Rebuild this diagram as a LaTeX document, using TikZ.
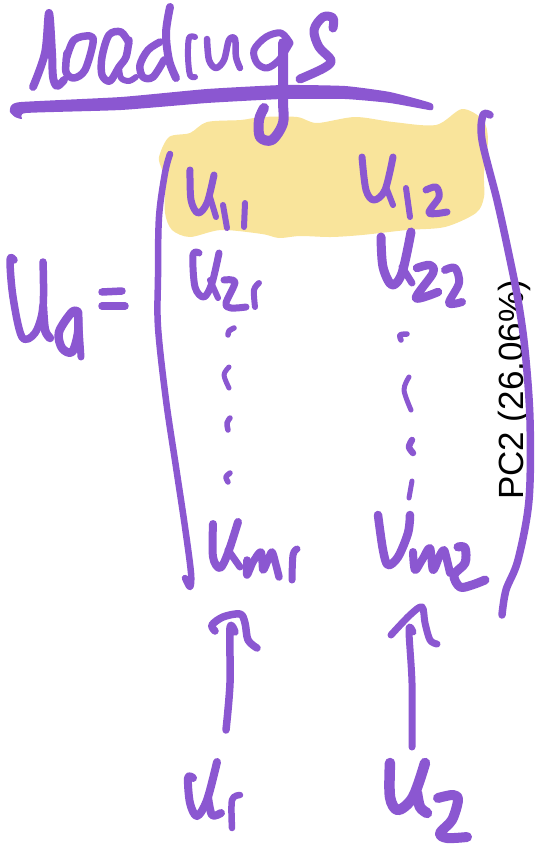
\documentclass[tikz,border=0pt]{standalone}
\usepackage{fontspec}
\setmainfont{Liberation Sans}
\definecolor{penpurple}{HTML}{8B57D1}
\definecolor{marker}{HTML}{F9E49B}
\newcommand{\penstroke}[2]{\draw[pen, line width=#1] plot[smooth, tension=.55] coordinates {#2};}
\begin{document}
\begin{tikzpicture}[
    x=1pt, y=-1pt,
    pen/.style={draw=penpurple, line cap=round, line join=round},
    axislabel/.style={rotate=90, anchor=base west, inner sep=0pt, font=\fontsize{35}{35}\selectfont}
]
\useasboundingbox (0,0) rectangle (539,847);
% highlight behind the first row
\fill[marker] plot[smooth cycle, tension=.5] coordinates {(159,157) (169,137) (190,133) (207,122) (241,120) (262,117) (297,117) (317,123) (355,117) (393,122) (436,125) (462,109) (483,120) (488,140) (484,173) (484,197) (476,213) (445,227) (407,230) (362,235) (331,237) (300,236) (279,238) (262,234) (221,230) (190,237) (172,230) (165,213) (165,183) (162,170)};
\node[axislabel] (pclabel) at (523.5,500) {PC2 (26.06\%)};
% title
\penstroke{8}{(33,87) (45,53) (49,13) (52,53) (53,77) (57,86) (64,80)}
\penstroke{7.5}{(66,60) (74,40) (90,36) (93,43) (85,70) (74,78) (66,72) (67,53)}
\penstroke{7.5}{(129,43) (121,32) (109,35) (102,57) (102,75) (110,81) (119,67) (126,57) (129,40)}
\penstroke{6}{(119,67) (121,78) (129,81) (136,77)}
\penstroke{8}{(170,7) (166,33) (169,60) (176,78)}
\penstroke{7.5}{(160,42) (148,50) (140,65) (143,77) (153,77) (164,60)}
\penstroke{6}{(195,37) (189,38) (188,57) (190,75) (195,77)}
\penstroke{6.5}{(207,39) (209,60) (216,68) (224,60) (229,40) (235,39) (236,57) (240,68)}
\penstroke{7}{(290,43) (281,33) (266,37) (254,50) (257,63) (267,68) (279,60) (290,43)}
\penstroke{10}{(283,43) (283,100) (283,123) (272,140) (260,137) (259,120) (264,108)}
\penstroke{9}{(333,28) (333,18) (323,17) (314,30) (319,47) (331,60) (324,68) (300,79)}
\fill[penpurple] plot[smooth cycle, tension=.3] coordinates {(11,106) (21,102) (121,97) (207,89) (283,85) (345,86) (390,92) (431,103) (433,109) (429,110) (390,103) (345,99) (283,99) (207,103) (121,110) (26,113) (22,119) (15,117) (10,112)};
% brackets
\penstroke{6.5}{(170,154) (165,173) (159,217) (158,277) (158,327) (166,400) (176,467) (185,527) (191,573) (190,587) (185,578)}
\penstroke{7.5}{(490,115) (483,115) (482,140) (497,200) (508,250) (518,300) (525,350) (530,420) (529,500) (518,560) (506,590) (502,615)}
% U_q =
\penstroke{7.5}{(14,260) (10,260) (13,297) (22,337) (35,333) (43,307) (43,262)}
\penstroke{8.5}{(43,307) (45,330) (50,338)}
\penstroke{8.5}{(78,312) (72,312) (59,332) (62,348) (72,352) (78,333) (78,312)}
\penstroke{7}{(78,312) (81,357)}
\penstroke{7.5}{(102,292) (122,291)}
\penstroke{7.5}{(102,306) (125,306)}
% u_11
\penstroke{7}{(190,170) (191,200) (198,213) (207,203) (214,175)}
\penstroke{6}{(210,197) (216,217)}
\penstroke{6}{(223,205) (227,228)}
\penstroke{6}{(245,203) (244,227)}
% u_12
\penstroke{7}{(362,157) (366,190) (374,200) (385,190) (393,157)}
\penstroke{6}{(386,187) (393,205)}
\penstroke{6}{(406,188) (410,217)}
\penstroke{7}{(426,190) (436,187) (439,197) (429,213) (447,212)}
% u_21
\penstroke{7}{(199,253) (193,255) (195,287) (204,297) (212,283) (219,253)}
\penstroke{6}{(210,280) (218,298)}
\penstroke{7}{(224,280) (235,282) (226,303) (231,308) (246,307)}
\penstroke{6}{(259,283) (254,290) (255,307)}
% u_22
\penstroke{9}{(381,237) (383,267) (392,285) (402,273) (411,232)}
\penstroke{7}{(402,267) (412,283)}
\penstroke{8.5}{(417,268) (430,265) (433,273) (416,298) (438,292)}
\penstroke{8}{(445,270) (455,268) (459,283) (449,303) (462,302)}
% dots, column 1
\penstroke{5.5}{(234,328) (229,331) (228,335)}
\penstroke{5}{(229,367) (224,375) (229,388)}
\penstroke{5.5}{(230,418) (227,423) (228,430)}
\penstroke{5.5}{(230,473) (226,477) (228,482)}
% dots, column 2
\penstroke{5.5}{(407,334) (400,335) (401,340)}
\penstroke{5}{(409,377) (404,390) (411,410)}
\penstroke{6.5}{(412,440) (409,447) (413,453)}
\penstroke{5}{(412,481) (409,498)}
% u_m1
\penstroke{8}{(213,524) (213,557) (220,568) (228,553) (238,522)}
\penstroke{7}{(228,550) (240,567)}
\penstroke{7.5}{(247,560) (247,575) (253,562) (261,552) (263,570) (268,560) (272,552) (276,565) (279,577)}
\penstroke{7}{(297,549) (293,555) (292,580)}
% v_m2
\penstroke{8.5}{(378,515) (383,550) (388,565) (398,557) (408,533) (410,515)}
\penstroke{8}{(413,552) (415,570) (422,560) (430,548) (433,570) (440,555) (444,550) (447,560) (450,573)}
\penstroke{9}{(458,547) (465,548) (465,563) (454,575) (460,587) (472,585) (485,580)}
% arrows
\penstroke{7.5}{(235,632) (230,628) (230,683) (226,730)}
\penstroke{7.5}{(215,631) (212,625) (223,617) (240,614) (245,623) (248,640) (257,648)}
\penstroke{7}{(413,632) (409,630) (412,683) (412,747)}
\penstroke{7}{(391,635) (410,615) (422,607) (425,623) (430,640) (437,644)}
% u_1
\penstroke{8}{(193,778) (188,778) (190,803) (197,816) (207,800) (217,762)}
\penstroke{8}{(208,797) (212,815) (221,813)}
\penstroke{6.5}{(240,795) (232,800) (232,828)}
% u_2
\penstroke{10.5}{(390,763) (390,797) (398,810) (413,797) (425,763)}
\penstroke{10.5}{(417,793) (420,807) (427,813)}
\penstroke{10}{(438,798) (453,795) (458,800) (452,820) (440,833) (447,838) (467,837)}
\end{tikzpicture}
\end{document}
